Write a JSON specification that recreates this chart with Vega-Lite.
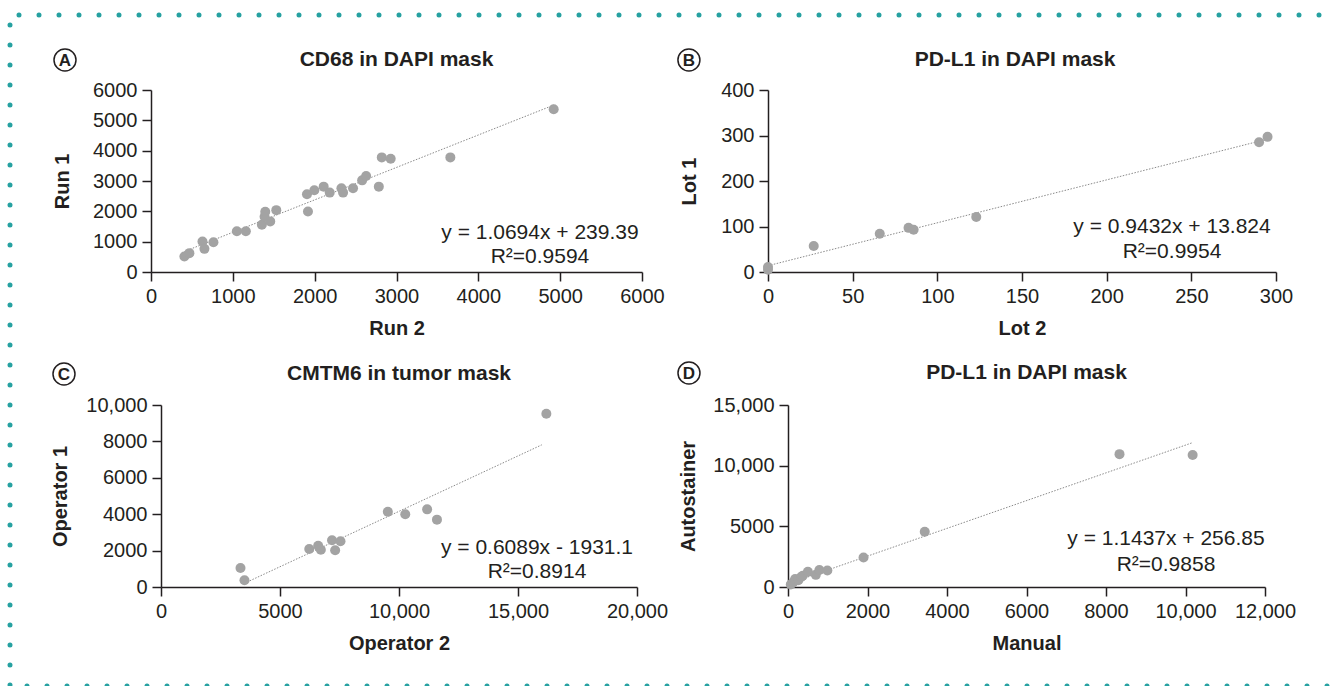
{
  "$schema": "https://vega.github.io/schema/vega-lite/v6.json",
  "padding": {"left": 7, "top": 12, "right": 0, "bottom": 0},
  "background": "white",
  "config": {
    "view": {"stroke": null},
    "font": "Liberation Sans",
    "axis": {
      "domainColor": "#231f20", "domainWidth": 1.5, "tickColor": "#231f20", "tickWidth": 1.5, "tickSize": 9, "grid": false,
      "labelFont": "Liberation Sans", "labelFontSize": 20, "labelColor": "#231f20", "labelPadding": 5, "labelFlush": false, "labelOverlap": false,
      "titleFont": "Liberation Sans", "titleFontSize": 20, "titleFontWeight": "bold", "titleColor": "#231f20",
      "labelExpr": "datum.value >= 10000 ? format(datum.value, ',') : format(datum.value, 'd')"
    }
  },
  "datasets": {
    "a_border": [{"x": -1613, "x2": 14823, "y": 8473, "y2": 8473}, {"x": -1723, "x2": -1723, "y": 8143, "y2": -14111}],
    "c_border": [{"x": -5630, "x2": 50420, "y": -5440, "y2": -5440}],
    "a_pts": [
      {"x": 408, "y": 513}, {"x": 469, "y": 622}, {"x": 629, "y": 1003}, {"x": 653, "y": 763}, {"x": 763, "y": 981},
      {"x": 1049, "y": 1341}, {"x": 1159, "y": 1341}, {"x": 1355, "y": 1559}, {"x": 1388, "y": 1821}, {"x": 1396, "y": 1985},
      {"x": 1457, "y": 1668}, {"x": 1531, "y": 2039}, {"x": 1906, "y": 2563}, {"x": 1918, "y": 1996}, {"x": 1996, "y": 2694},
      {"x": 2110, "y": 2814}, {"x": 2184, "y": 2617}, {"x": 2327, "y": 2759}, {"x": 2347, "y": 2617}, {"x": 2469, "y": 2759},
      {"x": 2580, "y": 3021}, {"x": 2629, "y": 3162}, {"x": 2784, "y": 2814}, {"x": 2820, "y": 3778}, {"x": 2929, "y": 3733},
      {"x": 3658, "y": 3778}, {"x": 4921, "y": 5363}
    ],
    "a_fit": [{"x": 408, "y": 675.7}, {"x": 4921, "y": 5501.9}],
    "a_eq": [{"x": 4753, "y": 1300, "t": "y = 1.0694x + 239.39"}, {"x": 4753, "y": 495, "t": "R²=0.9594"}],
    "a_title": [{"x": 3000, "y": 6989, "t": "CD68 in DAPI mask"}],
    "a_tag": [{"x": -1051, "y": 6989, "t": "A"}],
    "b_pts": [
      {"x": 0, "y": 11}, {"x": 0, "y": 5}, {"x": 27, "y": 57}, {"x": 66, "y": 84}, {"x": 83, "y": 97},
      {"x": 86, "y": 93}, {"x": 123, "y": 121}, {"x": 290, "y": 285}, {"x": 295, "y": 297}
    ],
    "b_fit": [{"x": 0, "y": 13.8}, {"x": 295, "y": 292.1}],
    "b_eq": [{"x": 238.6, "y": 99, "t": "y = 0.9432x + 13.824"}, {"x": 238.6, "y": 44, "t": "R²=0.9954"}],
    "b_title": [{"x": 145.9, "y": 466, "t": "PD-L1 in DAPI mask"}],
    "b_tag": [{"x": -46.7, "y": 466, "t": "B"}],
    "c_pts": [
      {"x": 3340, "y": 1044}, {"x": 3508, "y": 366}, {"x": 6229, "y": 2088}, {"x": 6604, "y": 2271}, {"x": 6716, "y": 2051},
      {"x": 7186, "y": 2564}, {"x": 7317, "y": 2015}, {"x": 7542, "y": 2509}, {"x": 9531, "y": 4139}, {"x": 10263, "y": 3993},
      {"x": 11182, "y": 4267}, {"x": 11595, "y": 3700}, {"x": 16191, "y": 9524}
    ],
    "c_fit": [{"x": 3500, "y": 200.05}, {"x": 16000, "y": 7811.3}],
    "c_eq": [{"x": 15798, "y": 2143, "t": "y = 0.6089x - 1931.1"}, {"x": 15798, "y": 824, "t": "R²=0.8914"}],
    "c_title": [{"x": 10000, "y": 11703, "t": "CMTM6 in tumor mask"}],
    "c_tag": [{"x": -4076, "y": 11703, "t": "C"}],
    "d_pts": [
      {"x": 70, "y": 200}, {"x": 130, "y": 380}, {"x": 180, "y": 650}, {"x": 260, "y": 550}, {"x": 330, "y": 830},
      {"x": 370, "y": 930}, {"x": 500, "y": 1250}, {"x": 700, "y": 1000}, {"x": 790, "y": 1400}, {"x": 990, "y": 1360},
      {"x": 1900, "y": 2430}, {"x": 3440, "y": 4550}, {"x": 8340, "y": 10950}, {"x": 10180, "y": 10880}
    ],
    "d_fit": [{"x": 70, "y": 336.9}, {"x": 10179, "y": 11898.6}],
    "d_eq": [{"x": 9509, "y": 3956, "t": "y = 1.1437x + 256.85"}, {"x": 9509, "y": 1813, "t": "R²=0.9858"}],
    "d_title": [{"x": 6000, "y": 17637, "t": "PD-L1 in DAPI mask"}],
    "d_tag": [{"x": -2491, "y": 17637, "t": "D"}]
  },
  "columns": 2,
  "bounds": "flush",
  "spacing": {"row": 133, "column": 126},
  "concat": [
    {
      "width": 491, "height": 182,
      "encoding": {
        "x": {"field": "x", "type": "quantitative", "scale": {"domain": [0, 6000], "nice": false}, "axis": {"title": "Run 2", "values": [0, 1000, 2000, 3000, 4000, 5000, 6000], "titlePadding": 12}},
        "y": {"field": "y", "type": "quantitative", "scale": {"domain": [0, 6000], "nice": false}, "axis": {"title": "Run 1", "values": [0, 1000, 2000, 3000, 4000, 5000, 6000], "titlePadding": 20}}
      },
      "layer": [
        {"data": {"name": "a_border"}, "mark": {"type": "rule", "color": "#26a1a1", "strokeWidth": 5, "strokeCap": "round", "strokeDash": [0, 20]},
         "encoding": {"x2": {"field": "x2"}, "y2": {"field": "y2"}}},
        {"data": {"name": "a_fit"}, "mark": {"type": "line", "color": "#8a8a8a", "strokeWidth": 1, "strokeDash": [1.5, 1.5]}},
        {"data": {"name": "a_pts"}, "mark": {"type": "circle", "color": "#a3a3a3", "opacity": 1, "size": 100}},
        {"data": {"name": "a_eq"}, "mark": {"type": "text", "fontSize": 21, "color": "#231f20", "align": "center", "baseline": "middle"}, "encoding": {"text": {"field": "t"}}},
        {"data": {"name": "a_title"}, "mark": {"type": "text", "fontSize": 21, "fontWeight": "bold", "color": "#231f20", "align": "center", "baseline": "middle"}, "encoding": {"text": {"field": "t"}}},
        {"data": {"name": "a_tag"}, "mark": {"type": "point", "shape": "circle", "filled": false, "size": 484, "color": "#231f20", "strokeWidth": 1.5, "opacity": 1}},
        {"data": {"name": "a_tag"}, "mark": {"type": "text", "fontSize": 17, "fontWeight": "bold", "color": "#231f20", "align": "center", "baseline": "middle", "dy": 1}, "encoding": {"text": {"field": "t"}}}
      ]
    },
    {
      "width": 508, "height": 182,
      "encoding": {
        "x": {"field": "x", "type": "quantitative", "scale": {"domain": [0, 300], "nice": false}, "axis": {"title": "Lot 2", "values": [0, 50, 100, 150, 200, 250, 300], "titlePadding": 12}},
        "y": {"field": "y", "type": "quantitative", "scale": {"domain": [0, 400], "nice": false}, "axis": {"title": "Lot 1", "values": [0, 100, 200, 300, 400], "titlePadding": 21}}
      },
      "layer": [
        {"data": {"name": "b_fit"}, "mark": {"type": "line", "color": "#8a8a8a", "strokeWidth": 1, "strokeDash": [1.5, 1.5]}},
        {"data": {"name": "b_pts"}, "mark": {"type": "circle", "color": "#a3a3a3", "opacity": 1, "size": 100}},
        {"data": {"name": "b_eq"}, "mark": {"type": "text", "fontSize": 21, "color": "#231f20", "align": "center", "baseline": "middle"}, "encoding": {"text": {"field": "t"}}},
        {"data": {"name": "b_title"}, "mark": {"type": "text", "fontSize": 21, "fontWeight": "bold", "color": "#231f20", "align": "center", "baseline": "middle"}, "encoding": {"text": {"field": "t"}}},
        {"data": {"name": "b_tag"}, "mark": {"type": "point", "shape": "circle", "filled": false, "size": 484, "color": "#231f20", "strokeWidth": 1.5, "opacity": 1}},
        {"data": {"name": "b_tag"}, "mark": {"type": "text", "fontSize": 17, "fontWeight": "bold", "color": "#231f20", "align": "center", "baseline": "middle", "dy": 1}, "encoding": {"text": {"field": "t"}}}
      ]
    },
    {
      "width": 486, "height": 182,
      "encoding": {
        "x": {"field": "x", "type": "quantitative", "scale": {"domain": [0, 20000], "range": [10, 486], "nice": false}, "axis": {"title": "Operator 2", "values": [0, 5000, 10000, 15000, 20000], "titlePadding": 12}},
        "y": {"field": "y", "type": "quantitative", "scale": {"domain": [0, 10000], "nice": false}, "axis": {"title": "Operator 1", "values": [0, 2000, 4000, 6000, 8000, 10000], "titlePadding": 15, "offset": -10}}
      },
      "layer": [
        {"data": {"name": "c_border"}, "mark": {"type": "rule", "color": "#26a1a1", "strokeWidth": 5, "strokeCap": "round", "strokeDash": [0, 20]},
         "encoding": {"x2": {"field": "x2"}, "y2": {"field": "y2"}}},
        {"data": {"name": "c_fit"}, "mark": {"type": "line", "color": "#8a8a8a", "strokeWidth": 1, "strokeDash": [1.5, 1.5]}},
        {"data": {"name": "c_pts"}, "mark": {"type": "circle", "color": "#a3a3a3", "opacity": 1, "size": 100}},
        {"data": {"name": "c_eq"}, "mark": {"type": "text", "fontSize": 21, "color": "#231f20", "align": "center", "baseline": "middle"}, "encoding": {"text": {"field": "t"}}},
        {"data": {"name": "c_title"}, "mark": {"type": "text", "fontSize": 21, "fontWeight": "bold", "color": "#231f20", "align": "center", "baseline": "middle"}, "encoding": {"text": {"field": "t"}}},
        {"data": {"name": "c_tag"}, "mark": {"type": "point", "shape": "circle", "filled": false, "size": 484, "color": "#231f20", "strokeWidth": 1.5, "opacity": 1}},
        {"data": {"name": "c_tag"}, "mark": {"type": "text", "fontSize": 17, "fontWeight": "bold", "color": "#231f20", "align": "center", "baseline": "middle", "dy": 1}, "encoding": {"text": {"field": "t"}}}
      ]
    },
    {
      "width": 497, "height": 182,
      "encoding": {
        "x": {"field": "x", "type": "quantitative", "scale": {"domain": [0, 12000], "range": [20, 497], "nice": false}, "axis": {"title": "Manual", "values": [0, 2000, 4000, 6000, 8000, 10000, 12000], "titlePadding": 12}},
        "y": {"field": "y", "type": "quantitative", "scale": {"domain": [0, 15000], "nice": false}, "axis": {"title": "Autostainer", "values": [0, 5000, 10000, 15000], "titlePadding": 14, "offset": -20}}
      },
      "layer": [
        {"data": {"name": "d_fit"}, "mark": {"type": "line", "color": "#8a8a8a", "strokeWidth": 1, "strokeDash": [1.5, 1.5]}},
        {"data": {"name": "d_pts"}, "mark": {"type": "circle", "color": "#a3a3a3", "opacity": 1, "size": 100}},
        {"data": {"name": "d_eq"}, "mark": {"type": "text", "fontSize": 21, "color": "#231f20", "align": "center", "baseline": "middle"}, "encoding": {"text": {"field": "t"}}},
        {"data": {"name": "d_title"}, "mark": {"type": "text", "fontSize": 21, "fontWeight": "bold", "color": "#231f20", "align": "center", "baseline": "middle"}, "encoding": {"text": {"field": "t"}}},
        {"data": {"name": "d_tag"}, "mark": {"type": "point", "shape": "circle", "filled": false, "size": 484, "color": "#231f20", "strokeWidth": 1.5, "opacity": 1}},
        {"data": {"name": "d_tag"}, "mark": {"type": "text", "fontSize": 17, "fontWeight": "bold", "color": "#231f20", "align": "center", "baseline": "middle", "dy": 1}, "encoding": {"text": {"field": "t"}}}
      ]
    }
  ]
}
